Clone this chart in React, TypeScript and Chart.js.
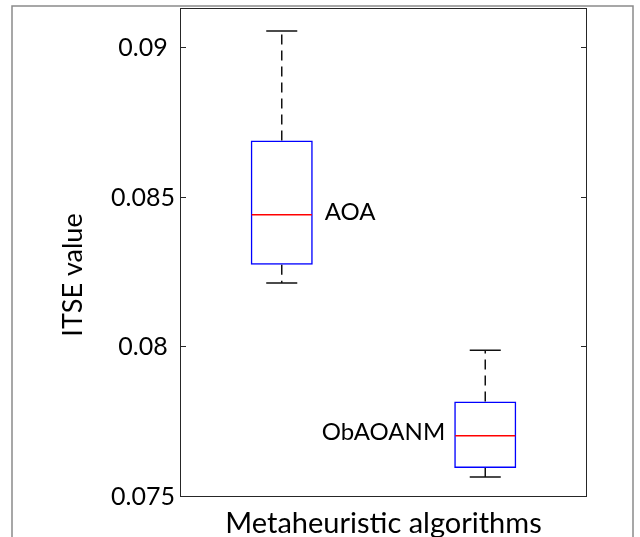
import React, { useEffect, useRef } from 'react';
import { Chart, registerables } from 'chart.js';

Chart.register(...registerables);

// ---- Data ----
const categories = ['AOA', 'ObAOANM'];
const minValues = [0.08215, 0.07567];
const q1Values = [0.08276, 0.07597];
const medianValues = [0.08443, 0.07705];
const q3Values = [0.08691, 0.07819];
const maxValues = [0.09057, 0.0799];
const labelSides = ['right', 'left'];
const yTickValues = [0.075, 0.08, 0.085, 0.09];
const yMin = 0.075;
const yMax = 0.09134;
const xTitle = 'Metaheuristic algorithms';
const yTitle = 'ITSE value';

const FONT = 'Lato, "Open Sans", sans-serif';
const AXIS_COLOR = '#262626';

const boxPlugin = {
  id: 'boxPlugin',
  beforeDraw(chart: any) {
    const ctx = chart.ctx;
    ctx.save();
    ctx.fillStyle = '#fff';
    ctx.fillRect(0, 0, chart.width, chart.height);
    ctx.strokeStyle = '#8a8a8a';
    ctx.lineWidth = 1.5;
    ctx.beginPath();
    ctx.moveTo(12, chart.height);
    ctx.lineTo(12, 6);
    ctx.lineTo(633, 6);
    ctx.lineTo(633, chart.height);
    ctx.stroke();
    ctx.restore();
  },
  afterDatasetsDraw(chart: any) {
    const ctx = chart.ctx;
    const ys = chart.scales.y;
    const area = chart.chartArea;
    const meta = chart.getDatasetMeta(0);
    ctx.save();
    meta.data.forEach((bar: any, i: number) => {
      const { x, width } = bar.getProps(['x', 'width'], true);
      const half = width / 2;
      const pMin = ys.getPixelForValue(minValues[i]);
      const pQ1 = ys.getPixelForValue(q1Values[i]);
      const pMed = ys.getPixelForValue(medianValues[i]);
      const pQ3 = ys.getPixelForValue(q3Values[i]);
      const pMax = ys.getPixelForValue(maxValues[i]);
      // whiskers (dashed)
      ctx.strokeStyle = '#111';
      ctx.lineWidth = 1.5;
      ctx.setLineDash([10, 6]);
      ctx.beginPath();
      ctx.moveTo(x, pQ3);
      ctx.lineTo(x, pMax);
      ctx.moveTo(x, pQ1);
      ctx.lineTo(x, pMin);
      ctx.stroke();
      ctx.setLineDash([]);
      // caps
      ctx.beginPath();
      ctx.moveTo(x - half / 2, pMax);
      ctx.lineTo(x + half / 2, pMax);
      ctx.moveTo(x - half / 2, pMin);
      ctx.lineTo(x + half / 2, pMin);
      ctx.stroke();
      // median
      ctx.strokeStyle = '#ff0000';
      ctx.lineWidth = 1.5;
      ctx.beginPath();
      ctx.moveTo(x - half + 1, pMed);
      ctx.lineTo(x + half - 1, pMed);
      ctx.stroke();
      // label
      ctx.fillStyle = '#000';
      ctx.font = '24px ' + FONT;
      ctx.textBaseline = 'middle';
      if (labelSides[i] === 'right') {
        ctx.textAlign = 'left';
        ctx.fillText(categories[i], x + half + 12, pMed - 3);
      } else {
        ctx.textAlign = 'right';
        ctx.fillText(categories[i], x - half - 9, pMed - 3);
      }
    });

    // axes box
    ctx.strokeStyle = AXIS_COLOR;
    ctx.lineWidth = 1;
    ctx.strokeRect(area.left + 0.5, area.top + 0.5, area.right - area.left - 1, area.bottom - area.top - 1);
    // inside ticks
    ctx.beginPath();
    yTickValues.forEach((v) => {
      const p = Math.round(ys.getPixelForValue(v)) - 0.5;
      ctx.moveTo(area.left, p);
      ctx.lineTo(area.left + 6, p);
      ctx.moveTo(area.right, p);
      ctx.lineTo(area.right - 6, p);
    });
    ctx.stroke();

    // titles
    ctx.fillStyle = '#000';
    ctx.textAlign = 'center';
    ctx.textBaseline = 'alphabetic';
    ctx.font = '29px ' + FONT;
    ctx.fillText(xTitle, (area.left + area.right) / 2, 533);
    ctx.save();
    ctx.font = '27px ' + FONT;
    ctx.translate(82, 275);
    ctx.rotate(-Math.PI / 2);
    ctx.fillText(yTitle, 0, 0);
    ctx.restore();
    ctx.restore();
  },
};

export default function App() {
  const ref = useRef<HTMLCanvasElement | null>(null);
  useEffect(() => {
    if (!ref.current) return;
    const chart = new Chart(ref.current, {
      type: 'bar',
      data: {
        labels: categories,
        datasets: [
          {
            data: categories.map((_, i) => [q1Values[i], q3Values[i]]) as any,
            backgroundColor: 'rgba(0,0,0,0)',
            borderColor: '#0000ff',
            borderWidth: 1.5,
            borderSkipped: false,
            categoryPercentage: 1,
            barPercentage: 0.305,
          },
        ],
      },
      options: {
        animation: false,
        responsive: false,
        maintainAspectRatio: false,
        devicePixelRatio: 1,
        layout: { padding: { left: 0, top: 8, right: 53, bottom: 0 } },
        plugins: { legend: { display: false }, tooltip: { enabled: false } },
        scales: {
          x: {
            type: 'category',
            offset: true,
            grid: { display: false, drawTicks: false },
            border: { display: false },
            ticks: { display: false },
            afterFit: (s: any) => {
              s.height = 40;
              s.paddingLeft = 0;
              s.paddingRight = 0;
            },
          },
          y: {
            type: 'linear',
            min: yMin,
            max: yMax,
            grid: { display: false, drawTicks: false },
            border: { display: false },
            afterFit: (s: any) => {
              s.width = 180;
              s.paddingTop = 0;
              s.paddingBottom = 0;
            },
            afterBuildTicks: (s: any) => {
              s.ticks = yTickValues.map((v) => ({ value: v }));
            },
            ticks: {
              color: '#000',
              font: { family: FONT, size: 25 },
              padding: 5,
              crossAlign: 'center',
              callback: (v: any) => String(Number(Number(v).toFixed(3))),
            },
          },
        },
      },
      plugins: [boxPlugin],
    });
    return () => chart.destroy();
  }, []);
  return (
    <div style={{ position: 'fixed', left: 0, top: 0, width: 640, height: 537, background: '#fff' }}>
      <canvas ref={ref} width={640} height={537} style={{ display: 'block', width: 640, height: 537 }} />
    </div>
  );
}
